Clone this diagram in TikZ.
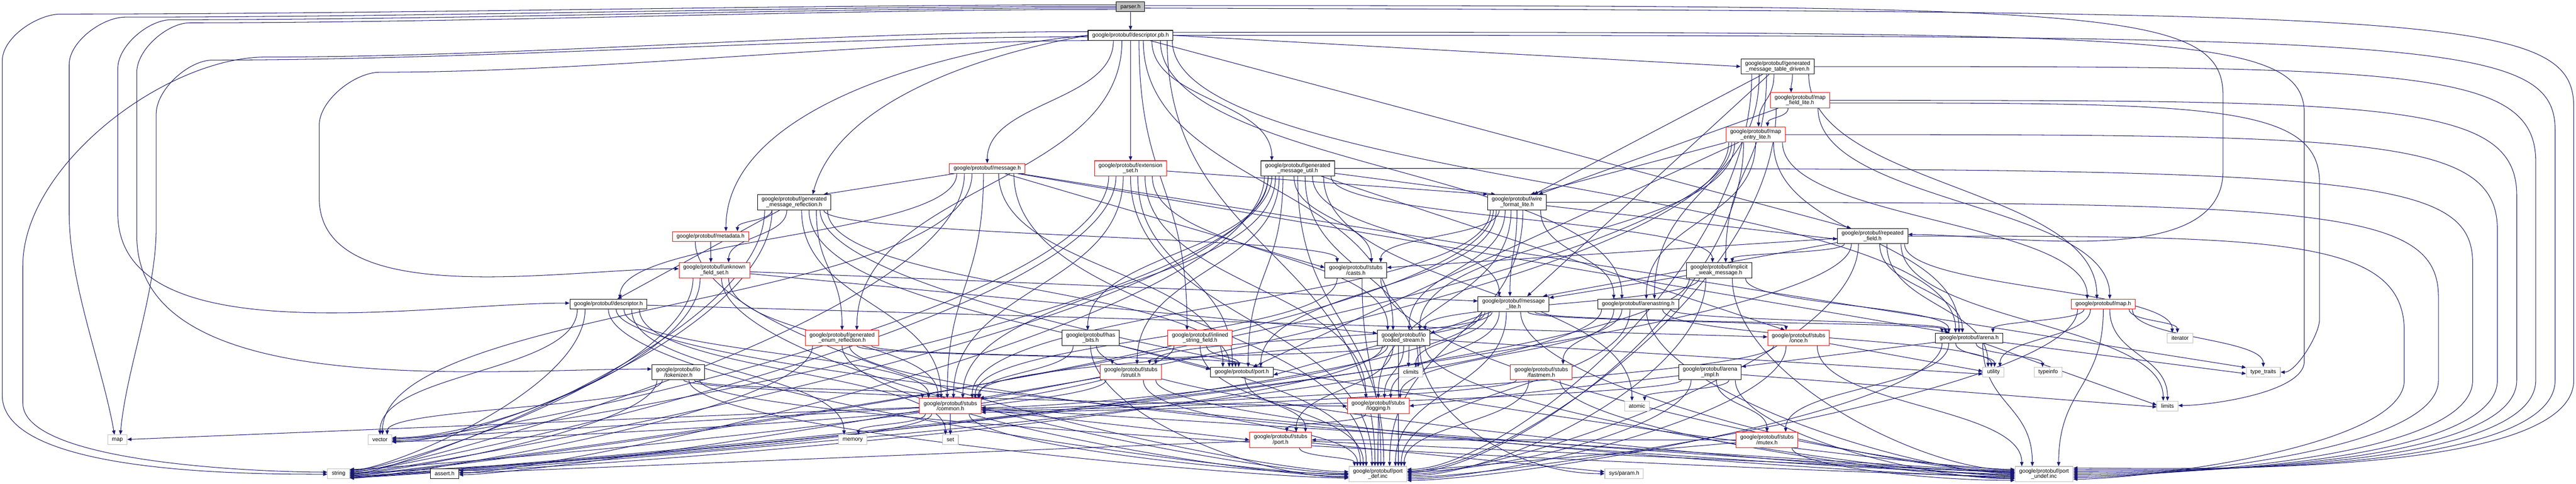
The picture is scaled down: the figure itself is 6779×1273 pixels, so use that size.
\documentclass[tikz,border=0pt]{standalone}
\usepackage{fontspec}
\setmainfont{Liberation Sans}
\usetikzlibrary{arrows.meta,calc,backgrounds}
\definecolor{edgec}{HTML}{191970}
\definecolor{grayb}{HTML}{BFBFBF}
\definecolor{redb}{HTML}{FF0000}
\newcommand\nfont{\fontsize{4.15pt}{4.1pt}\selectfont}
\tikzset{
 edg/.style={draw=edgec, line width=0.014cm, -{Triangle[length=0.11cm,width=0.09cm]}, looseness=0.8},
 nb/.style={draw=black, fill=white, line width=0.014cm, font=\nfont, inner xsep=0.11cm, inner ysep=0.02cm, minimum height=0.26cm, align=center},
 two/.style={minimum height=0.40cm},
 rd/.style={nb, draw=redb},
 gr/.style={nb, draw=grayb},
 rootn/.style={nb, fill=grayb},
}
% down curve: src, sfrac, tgt, tfrac
\newcommand\ed[4]{\path ($(#1.south west)!#2!(#1.south east)$) coordinate (S) ($(#3.north west)!#4!(#3.north east)$) coordinate (T) ($(S)!.5!(T)$) coordinate (M); \draw[edg] (S) .. controls (S |- M) and (T |- M) .. (T);}
% into left side
\newcommand\el[5][250]{\path ($(#2.south west)!#3!(#2.south east)$) coordinate (S) ($(#4.north west)!#5!(#4.south west)$) coordinate (T) ($(S)!.5!(T)$) coordinate (M) ($(T)+(-#1,0)$) coordinate (Q); \draw[edg] (S) .. controls (S |- M) and (Q) .. (T);}
% into right side
\newcommand\er[5][250]{\path ($(#2.south west)!#3!(#2.south east)$) coordinate (S) ($(#4.north east)!#5!(#4.south east)$) coordinate (T) ($(S)!.5!(T)$) coordinate (M) ($(T)+(#1,0)$) coordinate (Q); \draw[edg] (S) .. controls (S |- M) and (Q) .. (T);}
% straight
\newcommand\es[2]{\draw[edg] (#1) -- (#2);}
% right loop into port_undef: start, y, X, frac
\newcommand\rl[4]{\draw[edg] (#1) .. controls (#3-350,#2) and (#3,#2) .. (#3,#2+250) -- (#3,1000) to[out=-90,in=0,looseness=0.5] ($(portundef.north east)!#4!(portundef.south east)$);}
\begin{document}
\begin{tikzpicture}[x=0.01cm,y=-0.01cm]
\useasboundingbox (0,0) rectangle (6779,1273);
% nodes
\node[rootn] (parser) at (2975,18) {parser.h};
\node[nb] (descpb) at (2975,93) {google/protobuf/descriptor.pb.h};
\node[nb,two] (tabled) at (4678,175) {google/protobuf/generated\\\_message\_table\_driven.h};
\node[rd,two] (mfl) at (4737,264) {google/protobuf/map\\\_field\_lite.h};
\node[rd,two] (mel) at (4620,354) {google/protobuf/map\\\_entry\_lite.h};
\node[rd] (message) at (2598,443) {google/protobuf/message.h};
\node[rd,two] (extset) at (2975,443) {google/protobuf/extension\\\_set.h};
\node[nb,two] (gmutil) at (3415,443) {google/protobuf/generated\\\_message\_util.h};
\node[nb,two] (gmrefl) at (2090,532) {google/protobuf/generated\\\_message\_reflection.h};
\node[nb,two] (wfl) at (3992,532) {google/protobuf/wire\\\_format\_lite.h};
\node[nb,two] (repeated) at (4928,621) {google/protobuf/repeated\\\_field.h};
\node[rd] (metadata) at (1870,622) {google/protobuf/metadata.h};
\node[rd,two] (unknown) at (1880,711) {google/protobuf/unknown\\\_field\_set.h};
\node[nb,two] (casts) at (3568,711) {google/protobuf/stubs\\/casts.h};
\node[nb,two] (implicit) at (4524,711) {google/protobuf/implicit\\\_weak\_message.h};
\node[nb] (descriptor) at (1601,800) {google/protobuf/descriptor.h};
\node[nb,two] (msglite) at (3983,800) {google/protobuf/message\\\_lite.h};
\node[nb] (arenastring) at (4311,800) {google/protobuf/arenastring.h};
\node[rd] (maph) at (5535,800) {google/protobuf/map.h};
\node[rd,two] (genumrefl) at (2216,889) {google/protobuf/generated\\\_enum\_reflection.h};
\node[nb,two] (hasbits) at (2870,889) {google/protobuf/has\\\_bits.h};
\node[rd,two] (inlined) at (3158,889) {google/protobuf/inlined\\\_string\_field.h};
\node[nb,two] (coded) at (3694,889) {google/protobuf/io\\/coded\_stream.h};
\node[rd,two] (once) at (4733,889) {google/protobuf/stubs\\/once.h};
\node[nb] (arena) at (5182,889) {google/protobuf/arena.h};
\node[gr] (iterator) at (5737,889) {iterator};
\node[nb,two] (tokenizer) at (1785,979) {google/protobuf/io\\/tokenizer.h};
\node[rd,two] (strutil) at (2976,979) {google/protobuf/stubs\\/strutil.h};
\node[nb] (porth) at (3268,979) {google/protobuf/port.h};
\node[gr] (climits) at (3713,979) {climits};
\node[rd,two] (fastmem) at (4056,979) {google/protobuf/stubs\\/fastmem.h};
\node[nb,two] (arenaimpl) at (4500,979) {google/protobuf/arena\\\_impl.h};
\node[gr] (utility) at (5246,979) {utility};
\node[gr] (typeinfo) at (5390,979) {typeinfo};
\node[gr] (typetraits) at (5956,979) {type\_traits};
\node[rd,two] (common) at (2501,1068) {google/protobuf/stubs\\/common.h};
\node[rd,two] (logging) at (3627,1068) {google/protobuf/stubs\\/logging.h};
\node[gr] (atomic) at (4308,1068) {atomic};
\node[gr] (limits) at (5704,1068) {limits};
\node[gr] (map) at (309,1157) {map};
\node[gr] (vector) at (1000,1157) {vector};
\node[gr] (memory) at (2244,1157) {memory};
\node[gr] (set) at (2501,1157) {set};
\node[rd,two] (sport) at (3370,1157) {google/protobuf/stubs\\/port.h};
\node[rd,two] (mutex) at (4650,1157) {google/protobuf/stubs\\/mutex.h};
\node[gr] (string) at (891,1246) {string};
\node[nb] (asserth) at (1170,1246) {assert.h};
\node[gr,two] (portdef) at (3626,1247) {google/protobuf/port\\\_def.inc};
\node[gr] (sysparam) at (4274,1246) {sys/param.h};
\node[gr,two] (portundef) at (5379,1247) {google/protobuf/port\\\_undef.inc};
\begin{scope}[on background layer]
\fill[white] (0,0) rectangle (6779,1273);
% parser.h
\ed{parser}{.5}{descpb}{.5}
\draw[edg] (parser.172) to[out=180,in=0] (160,37) to[out=180,in=90] (6,160) -- (6,1040) to[out=-90,in=180,looseness=0.6] ($(string.north west)!.55!(string.south west)$);
\draw[edg] (parser.178) to[out=180,in=0] (330,45) to[out=180,in=90] (182,170) -- (182,560) to[out=-90,in=100] ($(map.north west)!.35!(map.north east)$);
\draw[edg] (parser.184) to[out=180,in=0] (450,52) to[out=180,in=90] (310,180) -- (310,560) to[out=-90,in=180] ($(descriptor.north west)!.4!(descriptor.south west)$);
\draw[edg] (parser.190) to[out=180,in=0] (500,60) to[out=180,in=90] (360,190) -- (360,620) to[out=-90,in=180] ($(tokenizer.north west)!.3!(tokenizer.south west)$);
\rl{parser.-5}{32}{6773}{.12}
\draw[edg] (parser.5) .. controls (5500,15) and (5850,15) .. (5850,250) -- (5850,450) to[out=-90,in=0] ($(repeated.north east)!.4!(repeated.south east)$);
% descriptor.pb.h
\ed{descpb}{.3}{message}{.5}
\ed{descpb}{.5}{extset}{.5}
\ed{descpb}{.75}{gmutil}{.15}
\es{descpb.east}{tabled.west}
\draw[edg] (descpb.west) to[out=185,in=90] ($(metadata.north west)!.7!(metadata.north east)$);
\draw[edg] (descpb.west) to[out=190,in=75] ($(gmrefl.north west)!.75!(gmrefl.north east)$);
\draw[edg] (descpb.175) to[out=180,in=0] (700,150) to[out=180,in=90] (60,700) -- (60,1060) to[out=-90,in=180,looseness=0.5] ($(string.north west)!.35!(string.south west)$);
\draw[edg] (descpb.182) to[out=180,in=0] (560,158) to[out=180,in=90] (411,300) -- (411,600) to[out=-90,in=85] ($(map.north west)!.65!(map.north east)$);
\draw[edg] (descpb.188) to[out=180,in=0] (1000,190) to[out=180,in=90] (840,330) -- (840,520) to[out=-90,in=180] ($(unknown.north west)!.4!(unknown.south west)$);
\ed{descpb}{.4}{genumrefl}{.7}
\ed{descpb}{.6}{inlined}{.3}
\ed{descpb}{.65}{coded}{.3}
\ed{descpb}{.85}{arenastring}{.3}
\ed{descpb}{.99}{arena}{.3}
\es{descpb}{repeated.160}
\ed{descpb}{.93}{portdef}{.45}
\rl{descpb.east}{93}{6724}{.22}
\draw[edg] (descpb.4) .. controls (5700,84) and (6064,84) .. (6064,300) -- (6064,950) to[out=-90,in=0,looseness=0.6] ($(limits.north east)!.45!(limits.south east)$);
% message.h
\er[100]{message}{.2}{string}{.35}
\ed{message}{.3}{vector}{.6}
\es{message}{typetraits.165}
\es{message}{casts.175}
\ed{message}{.45}{common}{.45}
\es{message}{arena.165}
\ed{message}{.1}{descriptor}{.65}
\es{message}{gmrefl.15}
\ed{message}{.65}{porth}{.2}
\ed{message}{.85}{portdef}{.3}
% extension_set.h
\er[100]{extset}{.3}{string}{.3}
\er{extset}{.2}{vector}{.4}
\ed{extset}{.4}{common}{.55}
\ed{extset}{.7}{logging}{.3}
\ed{extset}{.8}{coded}{.2}
\ed{extset}{.6}{porth}{.35}
\es{extset}{wfl.165}
\ed{extset}{.5}{portdef}{.4}
% generated_message_util.h
\er{gmutil}{.05}{asserth}{.4}
\ed{gmutil}{.85}{atomic}{.3}
\ed{gmutil}{.6}{climits}{.8}
\er[100]{gmutil}{.1}{string}{.45}
\er{gmutil}{.15}{vector}{.55}
\ed{gmutil}{.45}{casts}{.75}
\ed{gmutil}{.2}{common}{.7}
\es{gmutil}{once.150}
\ed{gmutil}{.1}{hasbits}{.45}
\ed{gmutil}{.95}{implicit}{.4}
\ed{gmutil}{.7}{msglite}{.3}
\ed{gmutil}{.3}{porth}{.6}
\es{gmutil}{wfl.160}
\ed{gmutil}{.25}{strutil}{.6}
\ed{gmutil}{.5}{portdef}{.6}
\rl{gmutil.east}{443}{6507}{.62}
% generated_message_reflection.h
\er[100]{gmrefl}{.1}{string}{.55}
\er{gmrefl}{.2}{vector}{.7}
\ed{gmrefl}{.9}{casts}{.2}
\ed{gmrefl}{.6}{common}{.35}
\es{gmrefl}{descriptor.30}
\ed{gmrefl}{.8}{genumrefl}{.5}
\ed{gmrefl}{.2}{metadata}{.85}
\ed{gmrefl}{.95}{porth}{.3}
\ed{gmrefl}{.4}{unknown}{.7}
\ed{gmrefl}{.7}{portdef}{.2}
\el{gmrefl}{.85}{portundef}{.2}
% generated_message_table_driven.h
\ed{tabled}{.7}{mfl}{.35}
\ed{tabled}{.45}{mel}{.55}
\es{tabled}{msglite.30}
\es{tabled}{wfl.25}
\ed{tabled}{.92}{maph}{.4}
\ed{tabled}{.25}{arenastring}{.7}
\ed{tabled}{.35}{implicit}{.6}
\er{tabled}{.15}{portdef}{.2}
\rl{tabled.east}{175}{6673}{.32}
% map_field_lite.h
\ed{mfl}{.8}{maph}{.6}
\ed{mfl}{.3}{mel}{.7}
\es{mfl}{wfl.20}
\er{mfl}{.1}{portdef}{.3}
\rl{mfl.east}{264}{6623}{.42}
\draw[edg] (mfl.-5) .. controls (5800,271) and (6104,271) .. (6104,480) -- (6104,840) to[out=-90,in=0,looseness=0.6] ($(typetraits.north east)!.5!(typetraits.south east)$);
% map_entry_lite.h
\er{mel}{.05}{asserth}{.6}
\er[100]{mel}{.1}{string}{.62}
\ed{mel}{.15}{coded}{.8}
\ed{mel}{.8}{arena}{.35}
\ed{mel}{.5}{arenastring}{.6}
\ed{mel}{.95}{maph}{.25}
\es{mel}{porth.25}
\es{mel}{wfl.30}
\er{mel}{.3}{portdef}{.4}
\rl{mel.east}{354}{6572}{.52}
% wire_format_lite.h
\er[100]{wfl}{.1}{string}{.68}
\ed{wfl}{.05}{common}{.85}
\ed{wfl}{.4}{logging}{.5}
\ed{wfl}{.2}{casts}{.9}
\ed{wfl}{.3}{coded}{.6}
\ed{wfl}{.5}{msglite}{.45}
\ed{wfl}{.15}{porth}{.8}
\es{wfl}{repeated.185}
\ed{wfl}{.9}{arenastring}{.2}
\ed{wfl}{.6}{portdef}{.7}
\rl{wfl.east}{532}{6417}{.72}
% repeated_field.h
\ed{repeated}{.7}{utility}{.25}
\ed{repeated}{.95}{iterator}{.2}
\ed{repeated}{.9}{limits}{.3}
\er[100]{repeated}{.2}{string}{.75}
\ed{repeated}{.6}{arena}{.4}
\ed{repeated}{.1}{implicit}{.7}
\es{repeated}{msglite.15}
\es{repeated}{casts.5}
\er{repeated}{.3}{portdef}{.5}
\rl{repeated.east}{621}{6327}{.82}
% metadata.h
\ed{metadata}{.5}{unknown}{.45}
\el{metadata}{.3}{portdef}{.35}
% unknown_field_set.h
\er[100]{unknown}{.2}{string}{.2}
\er{unknown}{.3}{vector}{.3}
\ed{unknown}{.7}{common}{.3}
\es{unknown}{coded.170}
\es{unknown}{msglite.175}
\el{unknown}{.6}{portdef}{.45}
% casts.h
\ed{casts}{.2}{common}{.9}
\ed{casts}{.6}{portdef}{.55}
\el{casts}{.9}{portundef}{.3}
% implicit_weak_message.h
\er[100]{implicit}{.05}{string}{.78}
\ed{implicit}{.2}{coded}{.9}
\ed{implicit}{.9}{arena}{.2}
\es{implicit}{msglite.10}
\er{implicit}{.3}{portdef}{.6}
\el{implicit}{.7}{portundef}{.25}
% descriptor.h
\ed{descriptor}{.8}{memory}{.2}
\ed{descriptor}{.9}{set}{.2}
\er[100]{descriptor}{.2}{string}{.15}
\ed{descriptor}{.1}{vector}{.5}
\ed{descriptor}{.7}{common}{.15}
\es{descriptor}{once.178}
\el{descriptor}{.5}{portdef}{.55}
\el{descriptor}{.6}{portundef}{.35}
% message_lite.h
\ed{msglite}{.15}{climits}{.7}
\er[100]{msglite}{.05}{string}{.85}
\ed{msglite}{.1}{common}{.95}
\ed{msglite}{.3}{logging}{.7}
\es{msglite}{coded.10}
\ed{msglite}{.8}{arena}{.1}
\ed{msglite}{.7}{once}{.3}
\ed{msglite}{.2}{strutil}{.9}
\ed{msglite}{.4}{portdef}{.8}
\el{msglite}{.6}{portundef}{.4}
% arenastring.h
\er[100]{arenastring}{.05}{string}{.88}
\ed{arenastring}{.8}{utility}{.4}
\ed{arenastring}{.2}{fastmem}{.85}
\ed{arenastring}{.3}{logging}{.85}
\ed{arenastring}{.9}{arena}{.15}
\ed{arenastring}{.4}{portdef}{.9}
\el{arenastring}{.6}{portundef}{.45}
% map.h
\ed{maph}{.9}{iterator}{.4}
\ed{maph}{.6}{limits}{.5}
\ed{maph}{.3}{utility}{.8}
\ed{maph}{.95}{typetraits}{.5}
\ed{maph}{.2}{arena}{.85}
\er{maph}{.1}{portdef}{.7}
\ed{maph}{.5}{portundef}{.75}
% generated_enum_reflection.h
\er[100]{genumrefl}{.1}{string}{.92}
\ed{genumrefl}{.9}{porth}{.4}
\ed{genumrefl}{.7}{strutil}{.2}
\el{genumrefl}{.5}{portdef}{.65}
\el{genumrefl}{.6}{portundef}{.5}
% has_bits.h
\ed{hasbits}{.2}{common}{.97}
\es{hasbits}{porth.175}
\el{hasbits}{.5}{portdef}{.7}
\el{hasbits}{.6}{portundef}{.55}
% inlined_string_field.h
\er[100]{inlined}{.1}{string}{.08}
\ed{inlined}{.6}{porth}{.45}
\ed{inlined}{.5}{portdef}{.25}
% coded_stream.h
\er{coded}{.1}{asserth}{.2}
\ed{coded}{.6}{climits}{.4}
\es{coded}{utility.190}
\er{coded}{.2}{common}{.6}
\ed{coded}{.5}{logging}{.6}
\ed{coded}{.15}{strutil}{.8}
\es{coded}{porth.-5}
\ed{coded}{.3}{sport}{.75}
\el{coded}{.8}{sysparam}{.5}
\ed{coded}{.4}{portdef}{.85}
\el{coded}{.9}{portundef}{.6}
% once.h
\es{once}{utility.175}
\er{once}{.1}{common}{.7}
\er{once}{.3}{portdef}{.8}
\ed{once}{.8}{portundef}{.12}
% arena.h
\es{arena}{limits.175}
\es{arena}{typetraits.185}
\ed{arena}{.3}{utility}{.55}
\ed{arena}{.6}{typeinfo}{.3}
\es{arena}{arenaimpl.10}
\ed{arena}{.2}{mutex}{.8}
\er{arena}{.1}{portdef}{.9}
\ed{arena}{.7}{portundef}{.3}
% tokenizer.h
\er[100]{tokenizer}{.1}{string}{.5}
\ed{tokenizer}{.2}{vector}{.8}
\ed{tokenizer}{.8}{common}{.05}
\el{tokenizer}{.6}{logging}{.5}
\el{tokenizer}{.7}{portdef}{.75}
\el{tokenizer}{.9}{portundef}{.65}
% strutil.h
\er{strutil}{.1}{vector}{.65}
\es{strutil}{common.15}
\ed{strutil}{.7}{portdef}{.15}
\el{strutil}{.9}{portundef}{.7}
% port.h
\ed{porth}{.55}{sport}{.9}
% fastmem.h
\er{fastmem}{.1}{common}{.8}
\ed{fastmem}{.3}{portdef}{.95}
\el{fastmem}{.8}{portundef}{.75}
% arena_impl.h
\ed{arenaimpl}{.8}{atomic}{.8}
\es{arenaimpl}{limits.185}
\er{arenaimpl}{.05}{common}{.9}
\es{arenaimpl}{logging.0}
\ed{arenaimpl}{.6}{mutex}{.5}
\er{arenaimpl}{.2}{portdef}{.35}
\el{arenaimpl}{.9}{portundef}{.8}
% common.h
\es{common}{map}
\ed{common}{.1}{memory}{.7}
\ed{common}{.5}{set}{.5}
\er[100]{common}{.2}{string}{.42}
\es{common}{vector}
\es{common}{sport.180}
\el{common}{.8}{portdef}{.5}
\es{common}{portundef}
% logging.h
\ed{logging}{.3}{sport}{.6}
\ed{logging}{.5}{portdef}{.5}
% stubs/port.h
\es{sport}{asserth}
\es{sport}{sysparam}
\ed{sport}{.8}{portdef}{.1}
\es{sport}{portundef}
% mutex.h
\es{mutex}{sport}
\es{mutex}{portdef}
\el{mutex}{.9}{portundef}{.9}
\end{scope}
\end{tikzpicture}
\end{document}
